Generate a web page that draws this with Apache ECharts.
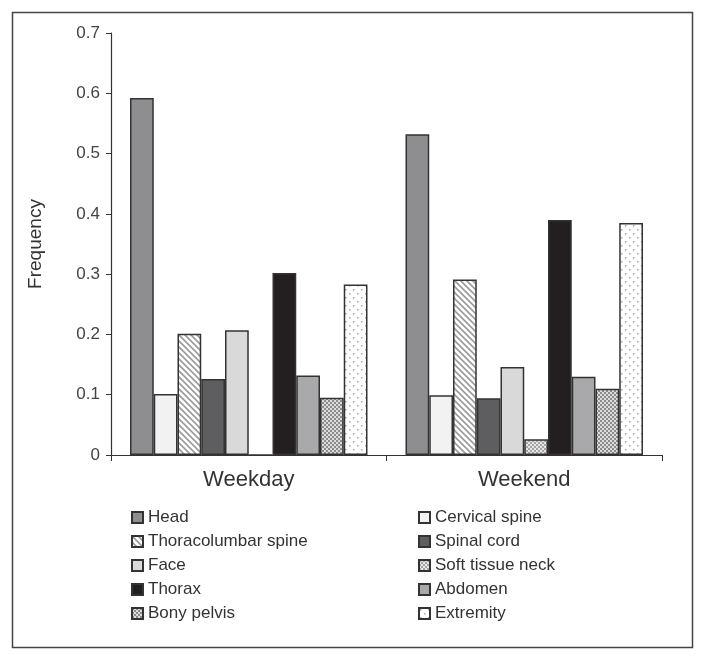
<!DOCTYPE html>
<html>
<head>
<meta charset="utf-8">
<script src="https://cdn.jsdelivr.net/npm/echarts@6/dist/echarts.min.js"></script>
<style>
  html, body { margin: 0; padding: 0; background: #fff; }
  #chart { width: 704px; height: 660px; }
</style>
</head>
<body>
<div id="chart"></div>
<script>
// chart data
const categories = ["Weekday", "Weekend"];
const seriesNames = [
  "Head", "Cervical spine", "Thoracolumbar spine", "Spinal cord", "Face",
  "Soft tissue neck", "Thorax", "Abdomen", "Bony pelvis", "Extremity"
];
const head = [0.592, 0.532];
const cervicalSpine = [0.101, 0.099];
const thoracolumbarSpine = [0.201, 0.291];
const spinalCord = [0.126, 0.094];
const face = [0.207, 0.146];
const softTissueNeck = [0, 0.026];
const thorax = [0.302, 0.390];
const abdomen = [0.132, 0.130];
const bonyPelvis = [0.095, 0.110];
const extremity = [0.283, 0.385];
const yTicks = [0, 0.1, 0.2, 0.3, 0.4, 0.5, 0.6, 0.7];

const values = [head, cervicalSpine, thoracolumbarSpine, spinalCord, face,
  softTissueNeck, thorax, abdomen, bonyPelvis, extremity];

// little canvas patterns for the hatched bars
function pattern(size, draw) {
  const c = document.createElement("canvas");
  c.width = size; c.height = size;
  const ctx = c.getContext("2d");
  ctx.fillStyle = "#fff";
  ctx.fillRect(0, 0, size, size);
  draw(ctx);
  return { image: c, repeat: "repeat" };
}
const stripes = pattern(6, ctx => {
  ctx.strokeStyle = "#9a9a9c";
  ctx.lineWidth = 1.6;
  ctx.beginPath();
  ctx.moveTo(0, 0); ctx.lineTo(6, 6);
  ctx.moveTo(-3, 3); ctx.lineTo(3, 9);
  ctx.moveTo(3, -3); ctx.lineTo(9, 3);
  ctx.stroke();
});
function checker(dark, light) {
  return pattern(4, ctx => {
    ctx.fillStyle = light;
    ctx.fillRect(0, 0, 4, 4);
    ctx.fillStyle = dark;
    ctx.fillRect(0, 0, 2, 2);
    ctx.fillRect(2, 2, 2, 2);
  });
}
const dots = pattern(8, ctx => {
  ctx.fillStyle = "#a8a8a8";
  ctx.fillRect(1, 1, 1.5, 1.5);
  ctx.fillRect(5, 5, 1.5, 1.5);
});

const fills = [
  "#8e8e91", "#f2f2f2", stripes, "#5e5e60", "#d9d9da",
  checker("#a4a4a4", "#e6e6e6"), "#231f20", "#a9a9ab",
  checker("#8c8c8c", "#dcdcdc"), dots
];

const font = "Liberation Sans";
const legendBase = {
  orient: "vertical", top: 509, padding: 0,
  icon: "rect", itemWidth: 11, itemHeight: 11, itemGap: 7,
  textStyle: { fontSize: 17, lineHeight: 17, color: "#333", fontFamily: font }
};
const chart = echarts.init(document.getElementById("chart"));
chart.setOption({
  animation: false,
  textStyle: { fontFamily: font, color: "#333" },
  graphic: [{
    type: "rect",
    shape: { x: 12.5, y: 12.5, width: 680, height: 635 },
    style: { fill: "none", stroke: "#444", lineWidth: 1.5 },
    silent: true
  }],
  grid: { left: 111, right: 42, top: 33, bottom: 205 },
  legend: [
    Object.assign({}, legendBase, {
      left: 131,
      data: [seriesNames[0], seriesNames[2], seriesNames[4], seriesNames[6], seriesNames[8]]
    }),
    Object.assign({}, legendBase, {
      left: 418,
      data: [seriesNames[1], seriesNames[3], seriesNames[5], seriesNames[7], seriesNames[9]]
    })
  ],
  xAxis: {
    type: "category",
    data: categories,
    axisLine: { lineStyle: { color: "#333", width: 1.2 } },
    axisTick: { show: true, length: 6, lineStyle: { color: "#333" } },
    axisLabel: { fontSize: 22, color: "#333", margin: 14, fontFamily: font }
  },
  yAxis: {
    type: "value",
    name: "Frequency",
    nameLocation: "middle",
    nameGap: 66,
    nameTextStyle: { fontSize: 19, color: "#333", fontFamily: font },
    min: 0, max: 0.7, interval: 0.1,
    splitLine: { show: false },
    axisLine: { show: true, lineStyle: { color: "#333", width: 1.2 } },
    axisTick: { show: true, length: 5, lineStyle: { color: "#333" } },
    axisLabel: {
      fontSize: 17, color: "#444", margin: 11, fontFamily: font,
      formatter: v => {
        const t = yTicks.find(x => Math.abs(x - v) < 1e-9);
        return t === undefined ? "" : String(t);
      }
    }
  },
  series: seriesNames.map((name, i) => ({
    name: name,
    type: "bar",
    data: values[i],
    barGap: "0%",
    barCategoryGap: "13.8%",
    itemStyle: { color: fills[i], borderColor: "#333", borderWidth: 1.5 }
  }))
});
</script>
</body>
</html>
